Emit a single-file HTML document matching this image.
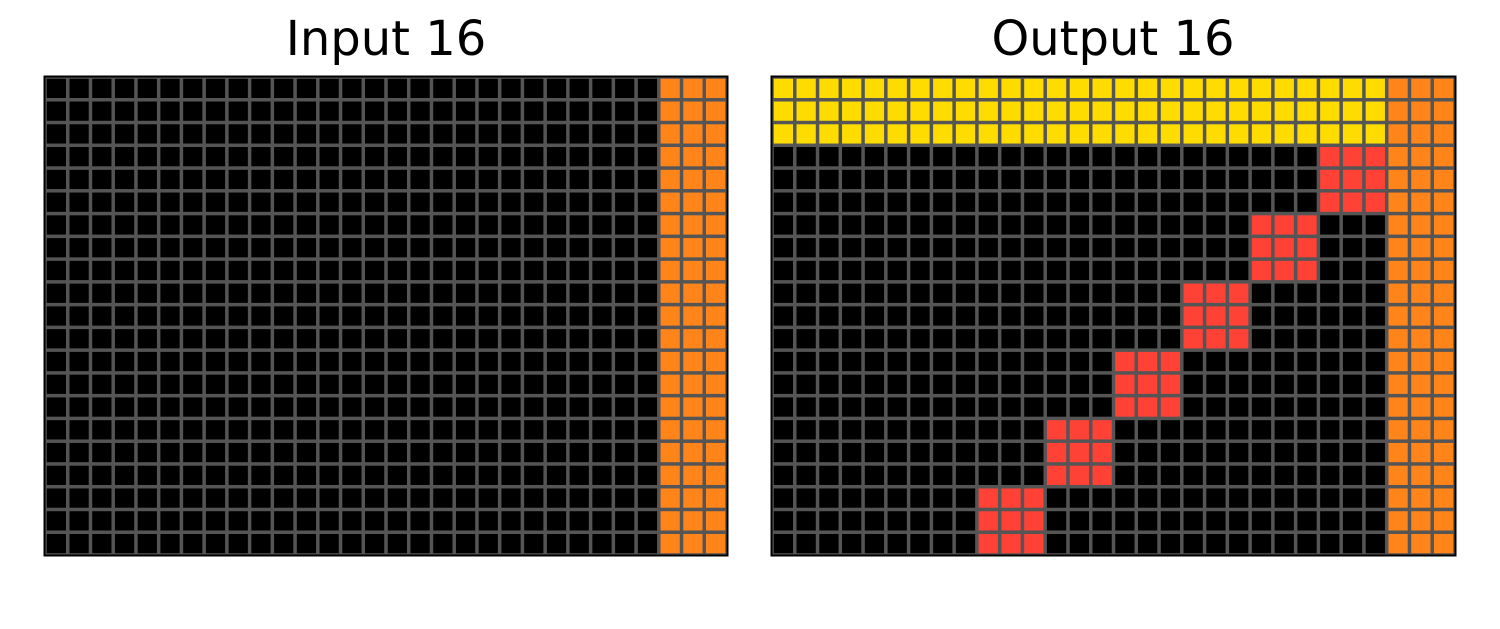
<!DOCTYPE html>
<html><head><meta charset="utf-8"><style>
html,body{margin:0;padding:0;background:#fff;width:1500px;height:629px;overflow:hidden}
</style></head><body>
<svg id="chart" width="1500" height="629" xmlns="http://www.w3.org/2000/svg">
<text x="386" y="55" font-family="DejaVu Sans, sans-serif" font-size="48" text-anchor="middle">Input 16</text>
<text x="1113" y="55" font-family="DejaVu Sans, sans-serif" font-size="48" text-anchor="middle">Output 16</text>
<g id="left"></g>
<g id="right"></g>
</svg>
<script>
const rows = 21, cols = 30;
const palette = ['#000000','#FFDC00','#FF4136','#FF851B'];
// input: orange last 3 cols
const inputOrangeCols = [27,28,29];
// output: yellow top rows, orange cols, red block starts [row, col]
const outputYellowRows = [0,1,2];
const outputOrangeCols = [27,28,29];
const redBlocks = [[3,24],[6,21],[9,18],[12,15],[15,12],[18,9]];

function makeGrid(){const g=[];for(let r=0;r<rows;r++){g.push(new Array(cols).fill(0));}return g;}
const inGrid = makeGrid();
for(let r=0;r<rows;r++) for(const c of inputOrangeCols) inGrid[r][c]=3;
const outGrid = makeGrid();
for(let r=0;r<rows;r++) for(const c of outputOrangeCols) outGrid[r][c]=3;
for(const r of outputYellowRows) for(let c=0;c<cols;c++) if(outGrid[r][c]===0) outGrid[r][c]=1;
for(const [br,bc] of redBlocks) for(let i=0;i<3;i++) for(let j=0;j<3;j++) outGrid[br+i][bc+j]=2;

const NS='http://www.w3.org/2000/svg';
function draw(id, grid, x0, y0, w, h){
  const g=document.getElementById(id);
  const cw=w/cols, ch=h/rows;
  const bg=document.createElementNS(NS,'rect');
  bg.setAttribute('x',x0);bg.setAttribute('y',y0);bg.setAttribute('width',w);bg.setAttribute('height',h);bg.setAttribute('fill','#555555');
  
  
  g.appendChild(bg);
  const gap=3.5;
  for(let r=0;r<rows;r++)for(let c=0;c<cols;c++){
    const rc=document.createElementNS(NS,'rect');
    rc.setAttribute('x',x0+c*cw+gap/2);rc.setAttribute('y',y0+r*ch+gap/2);rc.setAttribute('width',cw-gap);rc.setAttribute('height',ch-gap);
    rc.setAttribute('fill',palette[grid[r][c]]);
    
    
    g.appendChild(rc);
  }
  const fr=document.createElementNS(NS,'rect');
  fr.setAttribute('x',x0-0.5);fr.setAttribute('y',y0-0.5);fr.setAttribute('width',w+1);fr.setAttribute('height',h+1);
  fr.setAttribute('fill','none');fr.setAttribute('stroke','#000');fr.setAttribute('stroke-width','2');
  
  
  g.appendChild(fr);
}
draw('left', inGrid, 45, 77, 682, 478);
draw('right', outGrid, 772, 77, 683, 478);
</script>
</body></html>
